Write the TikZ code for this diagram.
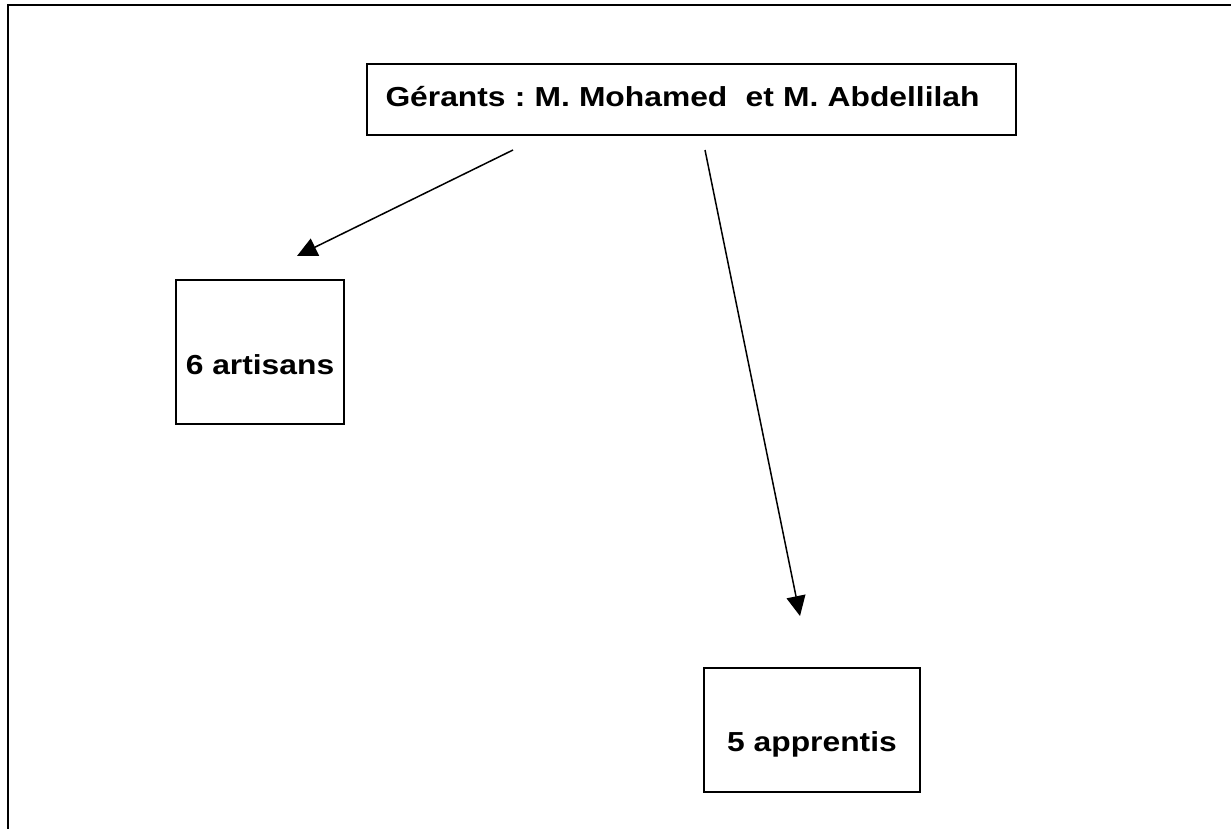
\documentclass[tikz,border=0pt]{standalone}
\usepackage{fontspec}
\setmainfont{Liberation Sans}[FakeStretch=1.156]
\usetikzlibrary{arrows.meta}
\frenchspacing
\begin{document}
\begin{tikzpicture}[x=1pt,y=-1pt,
  box/.style={draw, line width=1.6pt, inner sep=0pt, font=\fontsize{27.5}{33}\selectfont\bfseries},
  arr/.style={line width=1.5pt, -{Triangle[length=20pt,width=19pt]}},
  frameline/.style={line width=1.8pt}]
\useasboundingbox (0,0) rectangle (1231,829);
\draw[frameline] (1231,5) -- (8,5) -- (8,829);
\node[box, minimum width=649pt, minimum height=71pt, text width=612pt, align=left,
      text height=20pt, text depth=5pt] (g) at (691.5,99.5) {Gérants : M. Mohamed\ \ et M. Abdellilah};
\node[box, minimum width=168pt, minimum height=144pt, text height=44pt, text depth=0pt] (art) at (260,352) {6 artisans};
\node[box, minimum width=216pt, minimum height=124pt, text height=42pt, text depth=0pt] (app) at (812,730) {5 apprentis};
\coordinate (a1s) at (513,150);
\coordinate (a1e) at (297,256);
\coordinate (a2s) at (705,150);
\coordinate (a2e) at (800,616);
\draw[arr] (a1s) -- (a1e);
\draw[arr] (a2s) -- (a2e);
\end{tikzpicture}
\end{document}
